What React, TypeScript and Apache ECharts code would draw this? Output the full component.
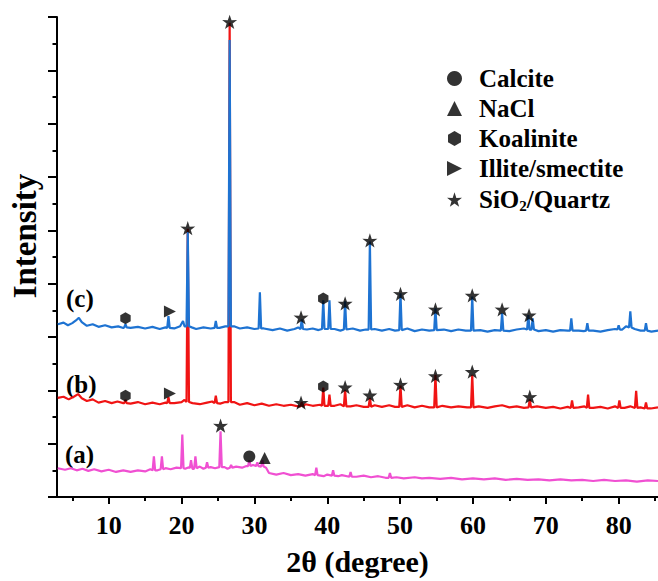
import React, { useEffect, useRef } from 'react';
import * as echarts from 'echarts';

// ---------- data (2θ in degrees, intensity in plot units) ----------
const xMajorTicks = [10, 20, 30, 40, 50, 60, 70, 80];
const xMinorTicks = [5, 15, 25, 35, 45, 55, 65, 75, 85];

// trace (c) — blue
const baseC: number[][] = [
  [3.0, 3.24], [3.8, 3.27], [4.4, 3.22], [5.0, 3.26], [5.5, 3.31], [5.9, 3.36], [6.3, 3.28], [7.0, 3.21],
  [7.8, 3.24], [8.6, 3.19], [9.5, 3.22], [10.4, 3.18], [11.3, 3.2], [12.0, 3.17], [13.0, 3.17], [14.0, 3.19],
  [15.0, 3.16], [16.0, 3.19], [17.0, 3.15], [17.8, 3.18], [19.0, 3.16], [19.8, 3.2], [20.2, 3.3], [20.4, 3.2],
  [21.4, 3.18], [22.0, 3.15], [23.0, 3.18], [24.0, 3.16], [25.2, 3.17], [26.0, 3.2], [27.2, 3.2],
  [28.0, 3.16], [29.0, 3.18], [30.0, 3.15], [31.3, 3.16], [32.5, 3.13], [33.5, 3.16], [34.5, 3.12], [35.5, 3.15],
  [36.0, 3.18], [37.2, 3.14], [38.0, 3.16], [38.8, 3.13], [41.0, 3.15], [41.8, 3.12], [43.5, 3.16], [44.5, 3.12],
  [45.3, 3.14], [46.5, 3.15], [47.5, 3.12], [48.5, 3.15], [49.3, 3.12], [51.0, 3.16], [52.0, 3.11], [53.0, 3.14],
  [54.0, 3.12], [56.0, 3.14], [57.0, 3.11], [58.0, 3.14], [59.0, 3.12], [61.0, 3.13], [62.0, 3.1], [63.0, 3.13],
  [65.0, 3.11], [66.0, 3.14], [67.0, 3.16], [69.0, 3.11], [70.0, 3.13], [71.0, 3.1], [72.0, 3.13], [73.0, 3.12],
  [74.5, 3.12], [75.2, 3.11], [76.5, 3.12], [77.5, 3.1], [78.5, 3.13], [79.5, 3.15], [80.5, 3.14], [81.0, 3.2],
  [82.2, 3.15], [83.0, 3.12], [84.5, 3.1], [85.4, 3.12],
];
// [2θ, peak top, foot level]
const peaksC: number[][] = [
  [12.3, 3.24, 3.18], [18.2, 3.39, 3.17], [20.85, 4.97, 3.2], [24.7, 3.3, 3.17], [26.6, 8.57, 3.2],
  [30.75, 3.84, 3.16], [36.5, 3.33, 3.15], [39.45, 3.69, 3.15], [40.3, 3.69, 3.15], [42.45, 3.67, 3.14],
  [45.85, 4.79, 3.14], [50.05, 3.82, 3.13], [54.85, 3.54, 3.13], [59.9, 3.76, 3.12], [64.0, 3.45, 3.12],
  [67.6, 3.41, 3.14], [68.2, 3.35, 3.14], [73.5, 3.35, 3.12], [75.7, 3.26, 3.12], [80.0, 3.22, 3.14],
  [81.6, 3.48, 3.18], [83.75, 3.26, 3.12],
];

// trace (b) — red
const baseB: number[][] = [
  [3.0, 1.86], [3.8, 1.88], [4.5, 1.83], [5.2, 1.88], [5.8, 1.93], [6.3, 1.85], [7.0, 1.8], [7.8, 1.83],
  [8.6, 1.77], [9.5, 1.8], [10.4, 1.76], [11.2, 1.79], [12.0, 1.76], [13.0, 1.75], [14.0, 1.78], [15.0, 1.74],
  [16.0, 1.77], [17.0, 1.74], [17.8, 1.77], [19.0, 1.76], [20.0, 1.78], [20.4, 1.82], [21.5, 1.76], [22.5, 1.74],
  [23.5, 1.77], [24.2, 1.79], [25.3, 1.75], [26.0, 1.78], [27.2, 1.78], [28.0, 1.73], [29.0, 1.76], [30.0, 1.72],
  [31.0, 1.75], [32.0, 1.71], [33.0, 1.74], [34.0, 1.71], [35.0, 1.73], [36.0, 1.7], [37.0, 1.74], [38.0, 1.71],
  [39.0, 1.73], [41.0, 1.71], [41.8, 1.74], [43.2, 1.7], [44.0, 1.72], [45.0, 1.69], [46.5, 1.72], [47.5, 1.69],
  [48.5, 1.72], [49.3, 1.69], [51.0, 1.72], [52.0, 1.68], [53.0, 1.71], [54.0, 1.68], [55.8, 1.71], [57.0, 1.68],
  [58.0, 1.7], [59.2, 1.68], [60.8, 1.7], [62.0, 1.67], [63.0, 1.7], [64.0, 1.72], [65.0, 1.68], [66.0, 1.7],
  [67.0, 1.67], [68.8, 1.7], [70.0, 1.67], [71.0, 1.69], [72.0, 1.66], [73.0, 1.69], [74.5, 1.68], [75.3, 1.7],
  [76.5, 1.67], [77.5, 1.69], [78.5, 1.66], [79.5, 1.7], [80.8, 1.67], [81.6, 1.7], [83.0, 1.68], [84.4, 1.66],
  [85.4, 1.68],
];
const peaksB: number[][] = [
  [12.3, 1.82, 1.76], [18.2, 1.87, 1.76], [20.85, 5.03, 1.78], [24.7, 1.9, 1.76], [26.6, 8.89, 1.78],
  [36.5, 1.78, 1.7], [39.45, 2.05, 1.71], [40.3, 1.92, 1.71], [42.45, 2.01, 1.7], [45.85, 1.86, 1.69],
  [50.05, 2.09, 1.69], [54.85, 2.29, 1.68], [59.9, 2.29, 1.68], [67.8, 1.83, 1.68], [73.6, 1.81, 1.67],
  [75.8, 1.92, 1.67], [80.1, 1.81, 1.67], [82.4, 1.99, 1.67], [83.75, 1.77, 1.66],
];

// trace (a) — magenta
const baseA: number[][] = [
  [3.0, 0.54], [4.0, 0.51], [4.8, 0.54], [5.6, 0.5], [6.4, 0.53], [7.2, 0.49], [8.0, 0.52], [9.0, 0.48],
  [10.0, 0.51], [11.0, 0.47], [12.0, 0.5], [13.0, 0.47], [14.0, 0.5], [15.0, 0.48], [15.7, 0.52], [16.7, 0.5],
  [17.8, 0.54], [18.5, 0.52], [19.3, 0.55], [20.5, 0.53], [21.0, 0.56], [21.6, 0.52], [22.5, 0.57], [23.0, 0.53],
  [24.0, 0.56], [24.6, 0.54], [25.9, 0.56], [26.3, 0.53], [27.5, 0.57], [28.3, 0.55], [28.9, 0.58], [29.8, 0.6],
  [31.6, 0.55], [32.0, 0.45], [33.0, 0.42], [34.0, 0.45], [35.0, 0.41], [36.0, 0.43], [37.0, 0.4],
  [38.0, 0.43], [39.5, 0.39], [40.0, 0.42], [41.5, 0.39], [42.0, 0.41], [44.0, 0.38], [45.0, 0.4], [46.0, 0.37],
  [47.0, 0.39], [48.0, 0.36], [49.5, 0.37], [50.5, 0.35], [52.0, 0.37], [53.0, 0.35], [54.0, 0.36], [55.5, 0.34],
  [57.0, 0.36], [58.5, 0.33], [60.0, 0.35], [61.5, 0.33], [63.0, 0.35], [64.5, 0.32], [66.0, 0.34], [67.5, 0.32],
  [69.0, 0.33], [70.5, 0.31], [72.0, 0.33], [73.5, 0.31], [75.0, 0.32], [76.5, 0.3], [78.0, 0.32], [79.5, 0.3],
  [81.0, 0.31], [82.5, 0.29], [84.0, 0.31], [85.4, 0.3],
];
const peaksA: number[][] = [
  [16.2, 0.76, 0.5], [17.3, 0.76, 0.52], [20.1, 1.17, 0.54], [21.3, 0.69, 0.54], [21.9, 0.76, 0.54],
  [23.5, 0.65, 0.55], [25.35, 1.23, 0.56], [26.8, 0.6, 0.55], [29.3, 0.69, 0.58], [30.4, 0.65, 0.58],
  [31.1, 0.69, 0.57], [38.5, 0.55, 0.41], [40.8, 0.5, 0.4], [43.2, 0.47, 0.38], [48.6, 0.45, 0.36],
];

// phase markers [2θ, intensity]
const calcitePts = [[29.3, 0.76]];
const naclPts = [[31.4, 0.73]];
const kaolinitePts = [[12.3, 3.35], [39.45, 3.72], [12.3, 1.9], [39.45, 2.07]];
const illitePts = [[18.4, 3.48], [18.4, 1.94]];
const quartzPts = [
  [20.85, 5.04], [26.6, 8.91],
  [36.4, 3.37], [42.45, 3.63], [45.85, 4.81], [50.05, 3.81], [54.85, 3.52], [59.9, 3.78], [64.0, 3.52], [67.7, 3.41],
  [36.4, 1.77], [42.45, 2.06], [45.85, 1.91], [50.05, 2.11], [54.85, 2.27], [59.9, 2.35], [67.8, 1.88],
  [25.35, 1.34],
];

const phaseNames = ['Calcite', 'NaCl', 'Koalinite', 'Illite/smectite', 'SiO2/Quartz'];
const traceLabels = ['(c)', '(b)', '(a)'];

// ---------- helpers ----------
const PEAK_HALF_WIDTH = 0.17;
function buildTrace(base: number[][], peaks: number[][]): number[][] {
  const pts: number[][] = base.filter(
    (b) => !peaks.some((p) => Math.abs(b[0] - p[0]) <= PEAK_HALF_WIDTH + 0.02)
  );
  peaks.forEach(([x, top, foot]) => {
    pts.push([x - PEAK_HALF_WIDTH, foot], [x, top], [x + PEAK_HALF_WIDTH, foot]);
  });
  return pts.sort((a, b) => a[0] - b[0]);
}

const SERIF = '"Liberation Serif", "Times New Roman", serif';
const HEX = 'path://M50,0 L93.3,25 L93.3,75 L50,100 L6.7,75 L6.7,25 Z';
const RTRI = 'path://M0,0 L100,50 L0,100 Z';
const STAR = 'path://M50,0 L61.8,35.3 L97.6,34.5 L69,56.5 L79.4,90.5 L50,70 L20.6,90.5 L31,56.5 L2.4,34.5 L38.2,35.3 Z';

export default function App() {
  const ref = useRef<HTMLDivElement>(null);
  useEffect(() => {
    if (!ref.current) return;
    const chart = echarts.init(ref.current, undefined, { renderer: 'svg' });
    const markerSeries = (name: string, data: number[][], symbol: string, size: number) => ({
      name,
      type: 'scatter',
      data,
      symbol,
      symbolSize: size,
      symbolKeepAspect: true,
      itemStyle: { color: '#000' },
      z: 5,
      xAxisIndex: 0,
      yAxisIndex: 0,
    });
    const lineSeries = (data: number[][], color: string, z: number) => ({
      type: 'line',
      data,
      showSymbol: false,
      symbol: 'none',
      lineStyle: { color, width: 2.2 },
      z,
      xAxisIndex: 0,
      yAxisIndex: 0,
      legendHoverLink: false,
    });
    chart.setOption({
      animation: false,
      grid: { left: 57, right: 0, top: 17, bottom: 81 },
      xAxis: [
        {
          type: 'value',
          min: 2.9,
          max: 85.4,
          axisLine: { show: true, lineStyle: { color: '#000', width: 2 } },
          axisTick: { show: true, customValues: xMajorTicks, length: 7, lineStyle: { color: '#000', width: 2 } },
          axisLabel: {
            customValues: xMajorTicks,
            margin: 15,
            color: '#000',
            fontFamily: SERIF,
            fontWeight: 'bold',
            fontSize: 26,
          },
          splitLine: { show: false },
          name: '2θ (degree)',
          nameLocation: 'middle',
          nameGap: 49,
          nameTextStyle: { color: '#000', fontFamily: SERIF, fontWeight: 'bold', fontSize: 30 },
        },
        {
          type: 'value',
          min: 2.9,
          max: 85.4,
          position: 'bottom',
          axisLine: { show: false },
          axisTick: { show: true, customValues: xMinorTicks, length: 4, lineStyle: { color: '#000', width: 2 } },
          axisLabel: { show: false },
          splitLine: { show: false },
        },
      ],
      yAxis: {
        type: 'value',
        min: 0,
        max: 9,
        interval: 1,
        axisLine: { show: true, lineStyle: { color: '#000', width: 2 } },
        axisTick: { show: true, length: 9, lineStyle: { color: '#000', width: 2 } },
        minorTick: { show: true, splitNumber: 2, length: 4.5, lineStyle: { color: '#000', width: 2 } },
        axisLabel: { show: false },
        splitLine: { show: false },
        minorSplitLine: { show: false },
      },
      legend: {
        orient: 'vertical',
        left: 442,
        top: 61,
        itemWidth: 15,
        itemHeight: 15,
        itemGap: 5,
        data: phaseNames,
        formatter: (name: string) =>
          name === 'SiO2/Quartz' ? '{t|SiO}{s|2}{t|/Quartz}' : `{t|${name}}`,
        textStyle: {
          padding: [0, 0, 0, 12],
          rich: {
            t: { fontFamily: SERIF, fontWeight: 'bold', fontSize: 25, color: '#000', lineHeight: 27 },
            s: { fontFamily: SERIF, fontWeight: 'bold', fontSize: 15, color: '#000', lineHeight: 27, padding: [12, 0, 0, 0] },
          },
        },
      },
      graphic: [
        {
          type: 'text',
          x: 25,
          y: 236,
          rotation: Math.PI / 2,
          style: { text: 'Intensity', fontFamily: SERIF, fontWeight: 'bold', fontSize: 33, fill: '#000', align: 'center', verticalAlign: 'middle' },
        },
        { type: 'text', left: 66, top: 286, style: { text: traceLabels[0], fontFamily: SERIF, fontWeight: 'bold', fontSize: 25, fill: '#000' } },
        { type: 'text', left: 66, top: 372, style: { text: traceLabels[1], fontFamily: SERIF, fontWeight: 'bold', fontSize: 25, fill: '#000' } },
        { type: 'text', left: 65, top: 442, style: { text: traceLabels[2], fontFamily: SERIF, fontWeight: 'bold', fontSize: 25, fill: '#000' } },
      ],
      series: [
        lineSeries(buildTrace(baseA, peaksA), '#f050d2', 2),
        lineSeries(buildTrace(baseB, peaksB), '#f01414', 3),
        lineSeries(buildTrace(baseC, peaksC), '#1e73d2', 4),
        markerSeries(phaseNames[0], calcitePts, 'circle', 12),
        markerSeries(phaseNames[1], naclPts, 'triangle', 12),
        markerSeries(phaseNames[2], kaolinitePts, HEX, 12),
        markerSeries(phaseNames[3], illitePts, RTRI, 12),
        markerSeries(phaseNames[4], quartzPts, STAR, 15),
      ],
    });
    return () => chart.dispose();
  }, []);
  return <div ref={ref} style={{ position: 'absolute', left: 0, top: 0, width: 658, height: 581 }} />;
}
